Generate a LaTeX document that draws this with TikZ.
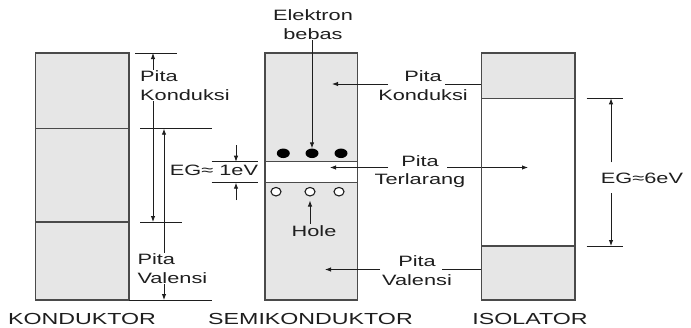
\documentclass[tikz,border=0pt]{standalone}
\usepackage{fontspec}
\setmainfont{Liberation Sans}[FakeStretch=1.45]
\usetikzlibrary{arrows.meta,positioning,calc,shapes.geometric}
\definecolor{Ink}{HTML}{1E1E1E}
\definecolor{Edge}{HTML}{4A4A4A}
\definecolor{Band}{HTML}{E6E6E6}
\tikzset{
  band/.style={draw=Edge,line width=1.2pt},
  tick/.style={draw=Ink,line width=0.9pt},
  arr/.style={-{Latex[length=6pt,width=4.5pt]},line width=0.9pt,draw=Ink},
  dim/.style={{Latex[length=6pt,width=4.5pt]}-{Latex[length=6pt,width=4.5pt]},line width=0.9pt,draw=Ink},
  lbl/.style={font=\fontsize{15}{18.5}\selectfont,text=Ink,inner sep=1pt},
}
\begin{document}
\begin{tikzpicture}[x=1pt,y=-1pt,
 elec/.style={ellipse,fill=black,minimum width=13pt,minimum height=9.5pt,inner sep=0pt},
 hole/.style={ellipse,draw=Ink,line width=1.1pt,fill=white,minimum width=10pt,minimum height=8.5pt,inner sep=0pt},
 capt/.style={font=\fontsize{16}{19}\selectfont,text=Ink,anchor=base}]
\useasboundingbox (0,0) rectangle (691,327);
% konduktor
\fill[Band] (35.7,53) rectangle (129,300);
\draw[band] (35.7,53) rectangle (129,300) (35.7,128.7) -- (129,128.7) (35.7,222) -- (129,222);
\draw[tick] (135,53) -- (177,53); \draw[tick] (140,128.7) -- (212,128.7);
\draw[tick] (140,222) -- (182,222); \draw[tick] (129,300) -- (212,300);
\coordinate (k1) at (153,53); \coordinate (k2) at (153,222);
\coordinate (k3) at (164,128.7); \coordinate (k4) at (164,300);
\draw[dim] (k1) -- (k2); \draw[dim] (k3) -- (k4);
\node[lbl,align=left,fill=white,anchor=west] (lk) at (139,85.4) {Pita\\Konduksi};
\node[lbl,align=left,fill=white,anchor=west] (lv) at (136.3,268.7) {Pita\\Valensi};
% semikonduktor
\fill[Band] (265,53) rectangle (357.7,300);
\fill[white] (265,161.7) rectangle (357.7,182.7);
\draw[band] (265,53) rectangle (357.7,300) (265,161.7) -- (357.7,161.7) (265,182.7) -- (357.7,182.7);
\draw[tick] (211.7,161.7) -- (258.3,161.7); \draw[tick] (211.7,182.7) -- (258.3,182.7);
\coordinate (s1) at (236,161.7); \coordinate (s2) at (236,182.7);
\coordinate (s0) at (236,145); \coordinate (s3) at (236,200);
\draw[arr] (s0) -- (s1); \draw[arr] (s3) -- (s2);
\node[lbl,anchor=base] (eg1) at (214,175) {EG≈ 1eV};
\node[elec] (e1) at (283.3,153.3) {}; \node[elec] (e2) at (312,153.3) {}; \node[elec] (e3) at (341,153.3) {};
\node[hole] (h1) at (276,191.7) {}; \node[hole] (h2) at (310,191.7) {}; \node[hole] (h3) at (339,191.7) {};
\node[lbl,align=center] (eb) at (313,24.5) {Elektron\\bebas};
\draw[arr] (eb.south -| e2) -- (e2.north);
\node[lbl,anchor=base] (hl) at (314,236) {Hole};
\draw[arr,shorten >=4pt] (hl.north -| h2) -- (h2.south);
% pita labels between semikonduktor and isolator
\node[lbl,align=center] (pk) at (423,85.4) {Pita\\Konduksi};
\node[lbl,align=center] (pt) at (420,171.6) {Pita\\Terlarang};
\node[lbl,align=center] (pv) at (417,270.4) {Pita\\Valensi};
\coordinate (pk1) at (388,84); \coordinate (pk2) at (445,84);
\coordinate (sk) at (332,84); \coordinate (ik) at (528,84);
\coordinate (pt1) at (388,167.5); \coordinate (pt2) at (447,167.5);
\coordinate (st) at (330,167.5); \coordinate (it) at (528,167.5);
\coordinate (pv1) at (380,269.5); \coordinate (pv2) at (442,269.5);
\coordinate (sv) at (325,269.5); \coordinate (iv) at (522,269.5);
\draw[arr] (pk1) -- (sk); \draw[arr] (pk2) -- (ik);
\draw[arr] (pt1) -- (st); \draw[arr] (pt2) -- (it);
\draw[arr] (pv1) -- (sv); \draw[arr] (pv2) -- (iv);
% isolator
\fill[Band] (481.7,53) rectangle (575,98.3); \fill[Band] (481.7,246) rectangle (575,300);
\draw[band] (481.7,53) rectangle (575,300) (481.7,98.3) -- (575,98.3) (481.7,246) -- (575,246);
\draw[tick] (586.7,98.3) -- (622.7,98.3); \draw[tick] (586.7,246) -- (622.7,246);
\coordinate (i1) at (611,98.3); \coordinate (i2) at (611,246);
\node[lbl,anchor=base,inner ysep=10pt] (eg6) at (642,183) {EG≈6eV};
\draw[arr] (eg6.north -| i1) -- (i1); \draw[arr] (eg6.south -| i2) -- (i2);
% captions
\node[capt] (kn) at (82,324.5) {KONDUKTOR};
\node[capt] (sm) at (310.5,324.5) {SEMIKONDUKTOR};
\node[capt] (is) at (530,324.5) {ISOLATOR};
\end{tikzpicture}
\end{document}
